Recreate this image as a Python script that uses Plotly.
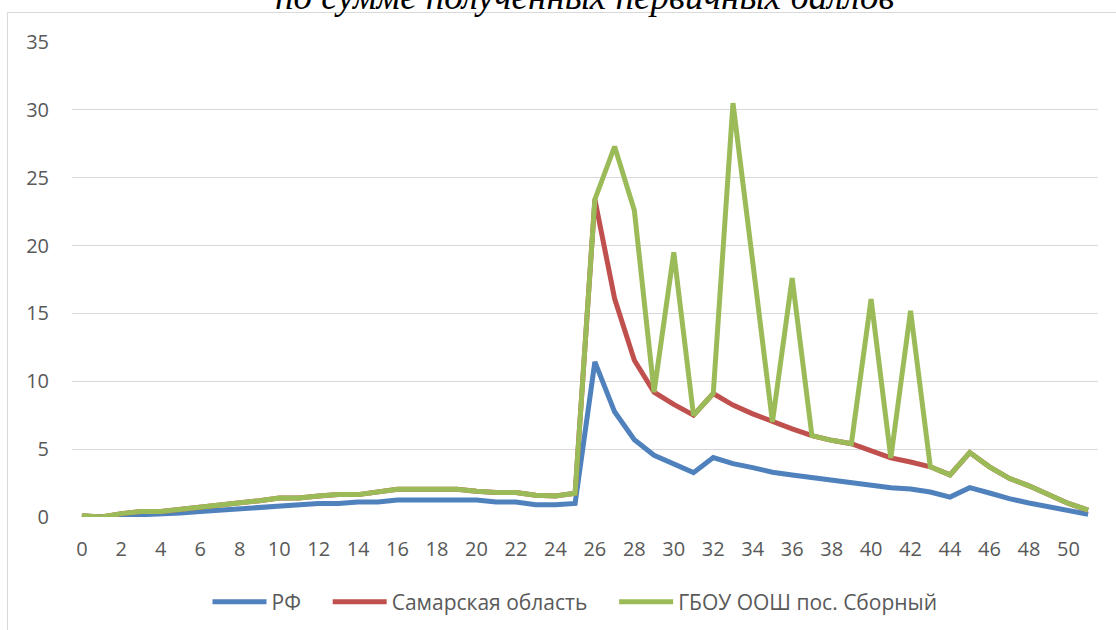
import plotly.graph_objects as go

scores = list(range(52))
rf = [0.05, 0.02, 0.1, 0.15, 0.2, 0.3, 0.4, 0.5, 0.6, 0.7, 0.8, 0.9, 1.0, 1.0, 1.1, 1.1,
      1.25, 1.25, 1.25, 1.25, 1.25, 1.1, 1.1, 0.9, 0.9, 1.0,
      11.43, 7.75, 5.7, 4.55, 3.9, 3.27, 4.38, 3.93, 3.64, 3.3, 3.1, 2.9, 2.7, 2.53, 2.34,
      2.16, 2.07, 1.84, 1.47, 2.16, 1.77, 1.35, 1.03, 0.74, 0.5, 0.2]
samara = [0.1, 0.0, 0.25, 0.4, 0.4, 0.55, 0.75, 0.85, 1.0, 1.2, 1.4, 1.4, 1.55, 1.65, 1.65, 1.85,
          2.05, 2.05, 2.05, 2.05, 1.9, 1.8, 1.8, 1.6, 1.55, 1.75,
          23.4, 16.1, 11.55, 9.2, 8.3, 7.5, 9.1, 8.25, 7.6, 7.0, 6.5, 6.0, 5.65, 5.4, 4.9,
          4.35, 4.05, 3.7, 3.1, 4.75, 3.7, 2.85, 2.3, 1.6, 1.0, 0.5]
school = [0.1, 0.0, 0.25, 0.4, 0.4, 0.55, 0.75, 0.85, 1.0, 1.2, 1.4, 1.4, 1.55, 1.65, 1.65, 1.85,
          2.05, 2.05, 2.05, 2.05, 1.9, 1.8, 1.8, 1.6, 1.55, 1.75,
          23.4, 27.3, 22.6, 9.2, 19.5, 7.5, 9.1, 30.5, 18.8, 7.0, 17.6, 6.0, 5.65, 5.4, 16.05,
          4.35, 15.2, 3.7, 3.1, 4.75, 3.7, 2.85, 2.3, 1.6, 1.0, 0.5]
series_names = ["РФ", "Самарская область", "ГБОУ ООШ пос. Сборный"]
colors = ["#4F81BD", "#C0504D", "#9BBB59"]
x_ticks = list(range(0, 51, 2))
y_ticks = list(range(0, 36, 5))
title_text = "по сумме полученных первичных баллов"

W, H = 1116, 630
L, R, T, B = 72, 18, 42, 113
pw, ph = W - L - R, H - T - B

def px_to_paper_x(px):
    return (px - L) / pw

def px_to_paper_y(py):
    return (H - B - py) / ph

fig = go.Figure()
for name, vals, col in zip(series_names, [rf, samara, school], colors):
    fig.add_trace(go.Scatter(x=scores, y=vals, name=name + "\u00a0\u00a0\u00a0\u00a0", mode="lines",
                             line=dict(color=col, width=5, shape="linear"),
                             cliponaxis=False))

font_family = "Open Sans, Noto Sans, sans-serif"
fig.update_layout(
    width=W, height=H,
    margin=dict(l=L, r=R, t=T, b=B, pad=0, autoexpand=False),
    paper_bgcolor="white", plot_bgcolor="white",
    showlegend=True,
    legend=dict(orientation="h", x=px_to_paper_x(586), xanchor="center",
                y=px_to_paper_y(602), yanchor="middle", itemwidth=54,
                font=dict(family=font_family, size=21, color="#595959"),
                bgcolor="rgba(0,0,0,0)"),
    xaxis=dict(range=[-0.5, 51.5], tickmode="array", tickvals=x_ticks,
               ticktext=[str(v) for v in x_ticks], showgrid=False, zeroline=False,
               showline=False, ticks="", ticklabelstandoff=18,
               tickfont=dict(family=font_family, size=20, color="#595959")),
    yaxis=dict(range=[0, 35], tickmode="array", tickvals=y_ticks, showgrid=True,
               gridcolor="#d9d9d9", gridwidth=1, zeroline=False, showline=False,
               ticks="", ticklabelstandoff=22,
               tickfont=dict(family=font_family, size=20, color="#595959")),
    shapes=[dict(type="rect", xref="paper", yref="paper",
                 x0=px_to_paper_x(7.5), x1=px_to_paper_x(1300),
                 y0=px_to_paper_y(800), y1=px_to_paper_y(12.5),
                 line=dict(color="#d9d9d9", width=1), fillcolor="rgba(0,0,0,0)",
                 layer="below")],
    annotations=[dict(text=title_text, xref="paper", yref="paper",
                      x=px_to_paper_x(585), y=px_to_paper_y(-3.5), xanchor="center",
                      yanchor="middle", showarrow=False,
                      font=dict(family="Liberation Serif", size=37, color="black",
                                style="italic"))],
)
fig.write_html("out.html", config={"displayModeBar": False},
               post_script="document.body.style.margin='0';document.body.style.padding='0';")
